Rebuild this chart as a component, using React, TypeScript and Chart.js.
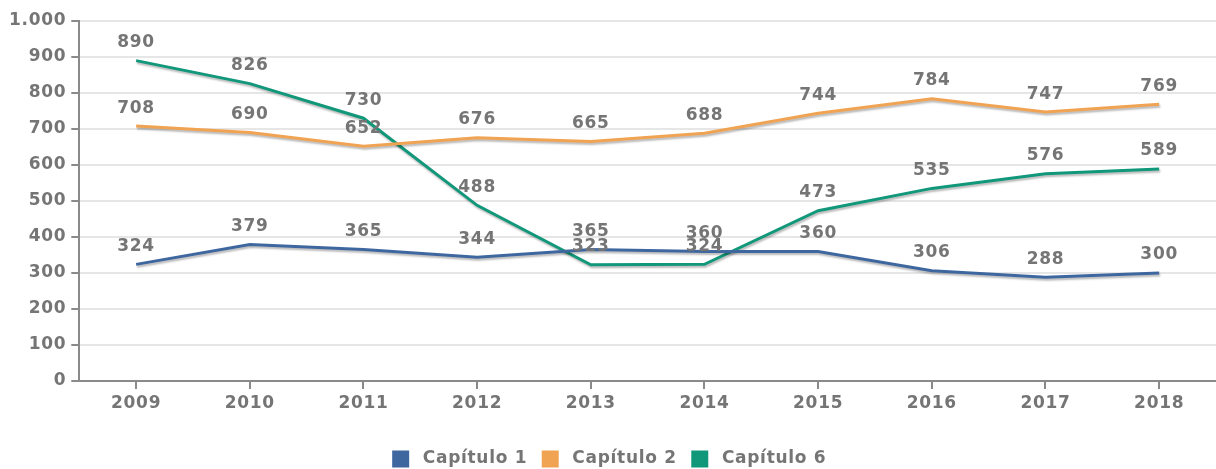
import React, { useEffect, useRef } from "react";
import { Chart, registerables } from "chart.js";

Chart.register(...registerables);

const years = ["2009", "2010", "2011", "2012", "2013", "2014", "2015", "2016", "2017", "2018"];
const capitulo1 = [324, 379, 365, 344, 365, 360, 360, 306, 288, 300];
const capitulo2 = [708, 690, 652, 676, 665, 688, 744, 784, 747, 769];
const capitulo6 = [890, 826, 730, 488, 323, 324, 473, 535, 576, 589];
const seriesNames = ["Capítulo 1", "Capítulo 2", "Capítulo 6"];
const seriesColors = ["#3e67a0", "#f0a352", "#11977a"];

const FONT = "'DejaVu Sans', sans-serif";
const TEXT = "#757575";
const SPACING = "0.7px";

const fmt = (v: number) => String(v).replace(/\B(?=(\d{3})+(?!\d))/g, ".");

const spacingPlugin = {
  id: "letterSpacing",
  beforeUpdate(chart: any) {
    chart.ctx.letterSpacing = SPACING;
  },
  beforeDraw(chart: any) {
    chart.ctx.letterSpacing = SPACING;
  },
};

const legendFitPlugin = {
  id: "legendFit",
  beforeInit(chart: any) {
    const lg = chart.legend;
    if (!lg) return;
    const orig = lg.fit;
    lg.fit = function () {
      orig.call(this);
      this.height = 34.5;
    };
  },
};

const shadowPlugin = {
  id: "lineShadow",
  beforeDatasetDraw(chart: any) {
    const ctx = chart.ctx;
    ctx.save();
    ctx.shadowColor = "rgba(0,0,0,0.28)";
    ctx.shadowBlur = 2;
    ctx.shadowOffsetX = 1;
    ctx.shadowOffsetY = 2;
  },
  afterDatasetDraw(chart: any) {
    chart.ctx.restore();
  },
};

const labelPlugin = {
  id: "valueLabels",
  afterDatasetsDraw(chart: any) {
    const ctx = chart.ctx;
    ctx.save();
    ctx.letterSpacing = SPACING;
    ctx.font = `bold 17px ${FONT}`;
    ctx.fillStyle = TEXT;
    ctx.textAlign = "center";
    ctx.textBaseline = "middle";
    chart.data.datasets.forEach((ds: any, i: number) => {
      const meta = chart.getDatasetMeta(i);
      meta.data.forEach((pt: any, j: number) => {
        ctx.fillText(fmt(ds.data[j]), pt.x, pt.y - 18);
      });
    });
    ctx.restore();
  },
};

export default function App() {
  const ref = useRef<HTMLCanvasElement>(null);
  useEffect(() => {
    document.body.style.margin = "0";
    const data = [capitulo1, capitulo2, capitulo6];
    const chart = new Chart(ref.current!, {
      type: "line",
      data: {
        labels: years,
        datasets: data.map((d, i) => ({
          label: " " + seriesNames[i],
          data: d,
          borderColor: seriesColors[i],
          backgroundColor: seriesColors[i],
          borderWidth: 3,
          pointRadius: 0,
          tension: 0,
          fill: false,
        })),
      },
      options: {
        animation: false,
        responsive: false,
        maintainAspectRatio: false,
        layout: { padding: { top: 21, right: 0, left: 4, bottom: 0 } },
        plugins: {
          legend: {
            position: "bottom",
            labels: {
              boxWidth: 14,
              boxHeight: 14,
              padding: 16,
              color: TEXT,
              font: { family: FONT, size: 17, weight: "bold" },
            },
          },
          tooltip: { enabled: false },
        },
        scales: {
          x: {
            offset: true,
            afterFit: (scale: any) => {
              scale.height = 53.5;
            },
            grid: { display: true, drawOnChartArea: false, offset: false, tickLength: 8, tickColor: "#8a8a8a", lineWidth: 2 },
            border: { display: true, color: "#8a8a8a", width: 2 },
            ticks: { color: TEXT, font: { family: FONT, size: 17, weight: "bold" }, padding: 4, maxRotation: 0 },
          },
          y: {
            min: 0,
            max: 1000,
            ticks: {
              stepSize: 100,
              color: TEXT,
              font: { family: FONT, size: 17, weight: "bold" },
              padding: 5,
              callback: (v: any) => fmt(v),
            },
            grid: { color: "#e6e6e6", lineWidth: 2, tickLength: 8, tickColor: "#8a8a8a" },
            border: { display: true, color: "#8a8a8a", width: 2 },
          },
        },
      },
      plugins: [spacingPlugin, legendFitPlugin, shadowPlugin, labelPlugin],
    });
    return () => chart.destroy();
  }, []);
  return <canvas ref={ref} width={1216} height={469} style={{ display: "block" }} />;
}
